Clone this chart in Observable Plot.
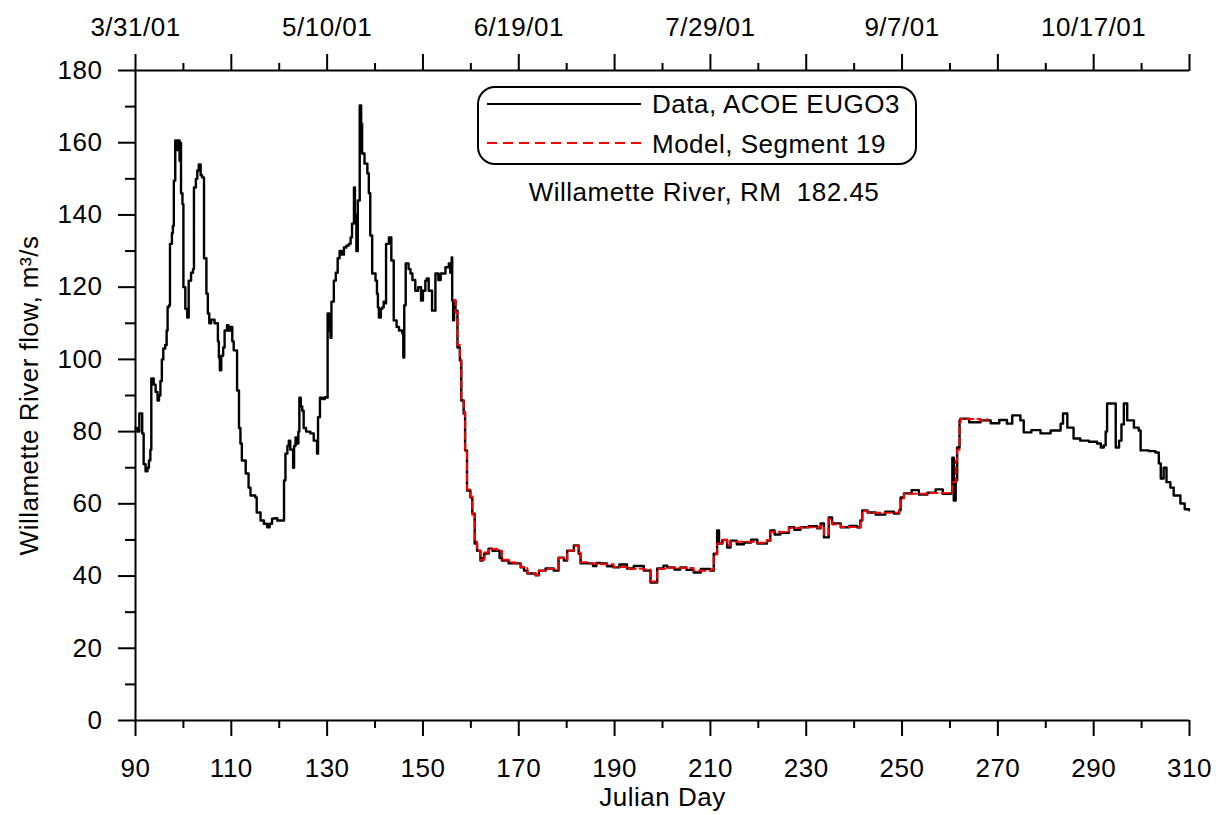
<!DOCTYPE html>
<html>
<head>
<meta charset="utf-8">
<script src="https://cdn.jsdelivr.net/npm/d3@7"></script>
<script src="https://cdn.jsdelivr.net/npm/@observablehq/plot@0.6"></script>
<style>
  html, body { margin: 0; padding: 0; background: #fff; }
  svg text { white-space: pre; letter-spacing: 0.5px; }
</style>
</head>
<body>
<div id="chart"></div>
<script>
// ---- Data (Julian day, flow m3/s) ----
const obsFlow = [
  [90,81],[90.4,80],[90.8,85],[91.2,85],[91.4,79.5],[91.7,71],[92.1,69],[92.5,70],[92.8,72],[93.1,75],
  [93.3,94.7],[93.8,93],[94.2,91],[94.6,88.6],[94.9,90],[95.2,94],[95.5,100],[95.8,103],[96.2,104],[96.5,108],
  [96.7,114.5],[97.0,115],[97.2,132],[97.6,135],[97.8,137],[98.0,149.5],[98.3,160.6],[98.6,158],[98.9,160.6],[99.2,155],
  [99.4,160],[99.5,146],[99.8,143],[100.0,120],[100.4,114],[100.8,111.6],[101.1,121.8],[101.6,124],[102.0,125],[102.2,147.6],
  [102.6,150],[102.9,152.3],[103.2,154],[103.6,151],[103.9,150.4],[104.3,128],[104.8,118.2],[105.1,112.7],[105.4,110],[105.8,111],
  [106.5,110],[107.0,110],[107.2,105],[107.4,100.5],[107.6,97],[107.9,101],[108.3,103.3],[108.6,108],[109.1,109.5],[109.4,108],
  [109.8,109],[110.2,105],[110.5,102.5],[111.2,91.4],[111.6,81],[111.9,76.7],[112.2,72],[112.6,72],[113.0,68.4],[113.6,64.5],
  [114.0,62.3],[115.0,61.8],[115.3,57.6],[116.1,55.4],[116.8,54.5],[117.5,53.5],[118.0,54.5],[118.5,55.9],[119.0,56],[119.6,55.4],
  [120.6,55.4],[121.0,66.5],[121.3,73.9],[121.7,76],[122.0,77.5],[122.3,75],[122.9,70],[123.1,76],[123.4,78.4],[123.7,76.7],
  [124.0,80],[124.2,89.4],[124.5,87],[124.8,85.8],[125.1,81],[125.6,80],[126.5,79.5],[127.2,77.5],[127.9,73.9],[128.1,84],
  [128.5,89.4],[129.0,89],[129.5,89.5],[130.0,89.4],[130.1,112.7],[130.4,108],[130.7,106],[130.9,116],[131.4,121.8],[131.8,124],
  [132.2,128],[132.6,130],[133.0,129],[133.5,131],[134.0,131.5],[134.5,132],[134.9,133.8],[135.2,137.6],[135.6,147.6],[135.8,140],
  [136.1,130],[136.4,144],[136.8,170.3],[137.1,165.3],[137.3,157],[137.8,154.2],[138.4,151.5],[138.7,146],[139.0,134.3],[139.4,123.8],
  [140.1,121.8],[140.4,118.2],[140.6,114.4],[140.8,111.6],[141.2,114],[141.5,114.4],[141.8,116],[142.2,115.5],[142.3,132],[142.9,133.8],
  [143.4,127.4],[143.9,110.8],[144.5,109],[145.0,108],[145.7,107.2],[145.9,100.5],[146.1,115],[146.4,126.6],[147.0,125],[147.4,123.8],
  [147.8,122],[148.4,119],[149.0,120],[149.6,116.3],[150.0,119],[150.5,121.8],[150.8,122.4],[151.2,119],[151.6,119],[151.9,113.5],
  [152.3,113.5],[152.6,123.8],[153.2,122],[153.7,123.8],[154.4,123.8],[154.7,125.5],[155.1,125.5],[155.4,126.6],[155.7,124],[156.0,128.2],
  [156.1,116.3],[156.3,110.8],[156.5,116.3],[156.8,113.5],[157.2,103.3],[157.7,99.7],[158.0,88.6],[158.5,85],[158.8,74.8],[159.2,63.7],
  [159.9,61.8],[160.3,57.3],[160.8,49],[161.3,47],[162.0,44.3],[162.5,45],[162.8,46.2],[163.7,47.6],[164.5,47],[165.5,47],
  [166.0,45],[166.5,44.3],[167.9,43.5],[169.3,43.5],[170.4,42.4],[171.1,41.5],[171.8,40.7],[173.5,40.2],[174.2,41.5],[175.6,42.1],
  [177.3,41.5],[178.3,45.1],[179.4,44.3],[180.1,47],[181.5,48.5],[182.5,46.2],[182.9,43.5],[184.3,43.5],[185.5,42.8],[186.2,43.6],
  [187.1,43.5],[188.4,42.7],[189.8,42.4],[191.0,43.2],[192.6,42.1],[194.0,42.8],[196.1,41.5],[197.3,41.5],[197.5,38.2],[198.5,38.2],
  [198.9,42.1],[200.2,42.9],[201.0,42.4],[202.5,41.8],[203.7,42.4],[205.0,41.7],[206.5,41],[208.0,42],[210.0,41.5],[210.7,46.2],
  [211.4,52.6],[211.8,49],[212.5,50],[213.5,47.9],[214.2,49.8],[215.5,48.8],[217.0,49.3],[218.5,50.1],[219.8,49],[221.8,49.8],
  [222.5,52.6],[223.4,51.5],[224.6,52],[226.4,53.5],[227.5,52.8],[228.8,53.5],[230.5,53.8],[232.3,53.2],[233.0,54.6],[233.7,50.7],
  [234.7,56.2],[235.4,54.6],[237.2,53.5],[239.0,53.9],[240.6,53.5],[241.3,55.4],[241.7,58.2],[242.8,57.6],[244.5,57],[246.5,57.8],
  [248.3,57.3],[249.4,58.2],[249.7,61.8],[250.4,62.9],[252.0,63.8],[253.5,62.6],[255.3,63.1],[257.0,64],[258.5,62.8],[260.1,62.9],
  [260.5,72.8],[260.8,60.9],[261.2,66.5],[261.5,75.6],[262.0,83.1],[262.2,83.6],[264.0,82.6],[266.4,83.1],[268.5,82.3],[270.3,83.2],
  [271.9,82.2],[273.0,84.5],[274.7,83.1],[275.4,79.8],[277.0,80.4],[278.9,79.5],[281.0,80.3],[283.1,82.2],[283.6,85],[284.5,81.1],
  [285.8,78.1],[287.2,77.5],[289.0,77.2],[290.7,76.7],[291.5,75.6],[292.1,76.2],[292.5,80],[292.8,87.8],[294.2,87.8],[294.6,75.6],
  [295.3,77.5],[295.8,82],[296.3,87.8],[297.0,83.1],[298.4,81.1],[299.4,80.3],[299.8,74.8],[301.5,74.6],[302.9,74.2],[303.6,71.2],
  [304.0,67],[304.6,70],[305.2,66],[306.0,64.5],[306.7,62.3],[308.1,60.1],[309.0,58.5],[309.9,58.2]
];
const modelFlow = [
  [156.4,116.3],[156.8,113],[157.2,104],[157.7,100],[158.0,89],[158.5,85.5],[158.8,75],[159.2,64],[159.9,62],[160.3,57],
  [160.8,49.5],[161.3,47],[162.0,44.5],[162.8,46.5],[163.7,47.5],[165.5,47],[166.5,44.5],[167.9,43.8],[169.3,43.5],[170.4,42.5],
  [171.8,40.8],[173.5,40.3],[174.2,41.5],[175.6,42],[177.3,41.8],[178.3,45],[179.4,44.5],[180.1,47],[181.5,48.3],[182.5,46.5],
  [182.9,43.8],[184.3,43.5],[187.1,43.3],[189.8,42.5],[192.6,42],[196.1,41.8],[197.5,38.5],[198.5,38.5],[198.9,42],[201,42.3],
  [203.7,42.2],[206.5,41.5],[210,41.8],[210.7,46],[211.4,49],[212.5,50],[213.5,48.5],[214.2,49.5],[217,49.5],[219.8,49.2],
  [221.8,50],[222.5,52.3],[224.6,52.2],[226.4,53.3],[228.8,53.5],[232.3,53.4],[233,54],[233.7,51.5],[234.7,55.8],[235.4,54.3],
  [237.2,53.6],[240.6,53.4],[241.3,55],[241.7,58],[242.8,57.5],[248.3,57.5],[249.4,58.5],[249.7,61.5],[250.4,62.8],[255.3,63],
  [260.1,63],[260.5,66],[261.2,72],[261.5,75],[262,82.5],[262.2,83.5],[264,83.5],[266.4,83],[267.8,83.5]
];

// ---- Ticks and labels ----
const xMajorTicks = [90, 110, 130, 150, 170, 190, 210, 230, 250, 270, 290, 310];
const xMinorTicks = [100, 120, 140, 160, 180, 200, 220, 240, 260, 280, 300];
const topLabelDays = [90, 130, 170, 210, 250, 290];
const topLabels = ["3/31/01", "5/10/01", "6/19/01", "7/29/01", "9/7/01", "10/17/01"];
const yMajorTicks = [0, 20, 40, 60, 80, 100, 120, 140, 160, 180];
const yMinorTicks = [10, 30, 50, 70, 90, 110, 130, 150, 170];
const xTitle = "Julian Day";
const yTitle = "Willamette River flow, m\u00B3/s";
const legendLabels = ["Data, ACOE EUGO3", "Model, Segment 19"];
const chartNote = "Willamette River, RM  182.45";

const FONT = "'Liberation Sans', Arial, Helvetica, sans-serif";
const FS = 26;

const svg = Plot.plot({
  width: 1222,
  height: 815,
  marginLeft: 135,
  marginRight: 33,
  marginTop: 70,
  marginBottom: 95,
  x: {domain: [90, 310]},
  y: {domain: [0, 180]},
  style: {fontFamily: FONT, fontSize: FS + "px", color: "black", background: "white", overflow: "visible"},
  marks: [
    // tick marks
    Plot.axisX(xMajorTicks, {anchor: "bottom", tickSize: 16, strokeWidth: 2, label: null, tickFormat: () => ""}),
    Plot.axisX(xMinorTicks, {anchor: "bottom", tickSize: 8, strokeWidth: 2, label: null, tickFormat: () => ""}),
    Plot.axisX(xMajorTicks, {anchor: "top", tickSize: 17, strokeWidth: 2, label: null, tickFormat: () => ""}),
    Plot.axisX(xMinorTicks, {anchor: "top", tickSize: 8, strokeWidth: 2, label: null, tickFormat: () => ""}),
    Plot.axisY(yMajorTicks, {anchor: "left", tickSize: 17, strokeWidth: 2, label: null, tickFormat: () => ""}),
    Plot.axisY(yMinorTicks, {anchor: "left", tickSize: 10, strokeWidth: 2, label: null, tickFormat: () => ""}),
    // tick labels
    Plot.text(xMajorTicks, {x: d => d, text: d => String(d), frameAnchor: "bottom", dy: 48, lineAnchor: "middle", fontSize: FS, fill: "black"}),
    Plot.text(topLabelDays, {x: d => d, text: d => topLabels[topLabelDays.indexOf(d)], frameAnchor: "top", dy: -43, lineAnchor: "middle", fontSize: FS, fill: "black"}),
    Plot.text(yMajorTicks, {y: d => d, text: d => String(d), frameAnchor: "left", dx: -33, textAnchor: "end", lineAnchor: "middle", fontSize: FS, fill: "black"}),
    // axis lines
    Plot.ruleX([90], {stroke: "black", strokeWidth: 2}),
    Plot.ruleY([0, 180], {stroke: "black", strokeWidth: 2}),
    // series
    Plot.line(obsFlow, {x: d => d[0], y: d => d[1], stroke: "black", strokeWidth: 2.4, curve: "step-after"}),
    Plot.line(modelFlow, {x: d => d[0], y: d => d[1], stroke: "#ff0000", strokeWidth: 2, strokeDasharray: "7,4", curve: "step-after"}),
    // axis titles
    Plot.text([xTitle], {text: d => d, frameAnchor: "bottom", dy: 77, fontSize: FS, lineAnchor: "middle", fill: "black"}),
    Plot.text([yTitle], {text: d => d, frameAnchor: "left", dx: -106, rotate: -90, textAnchor: "middle", lineAnchor: "middle", fontSize: FS, fill: "black"})
  ]
});

// legend and annotation
const g = d3.select(svg).append("g").attr("font-family", FONT).attr("font-size", FS).attr("fill", "black").attr("text-anchor", "start");
g.append("rect").attr("x", 478).attr("y", 87).attr("width", 438).attr("height", 77).attr("rx", 17).attr("ry", 17)
  .attr("fill", "white").attr("stroke", "black").attr("stroke-width", 2);
g.append("line").attr("x1", 487).attr("x2", 641).attr("y1", 104).attr("y2", 104).attr("stroke", "black").attr("stroke-width", 2);
g.append("line").attr("x1", 487).attr("x2", 641).attr("y1", 143).attr("y2", 143).attr("stroke", "#ff0000").attr("stroke-width", 2).attr("stroke-dasharray", "10,6");
g.append("text").attr("x", 652).attr("y", 113).attr("text-anchor", "start").text(legendLabels[0]);
g.append("text").attr("x", 652).attr("y", 153).attr("text-anchor", "start").text(legendLabels[1]);
g.append("text").attr("x", 704).attr("y", 201).attr("text-anchor", "middle").style("white-space", "pre").text(chartNote);

document.getElementById("chart").appendChild(svg);
</script>
</body>
</html>
